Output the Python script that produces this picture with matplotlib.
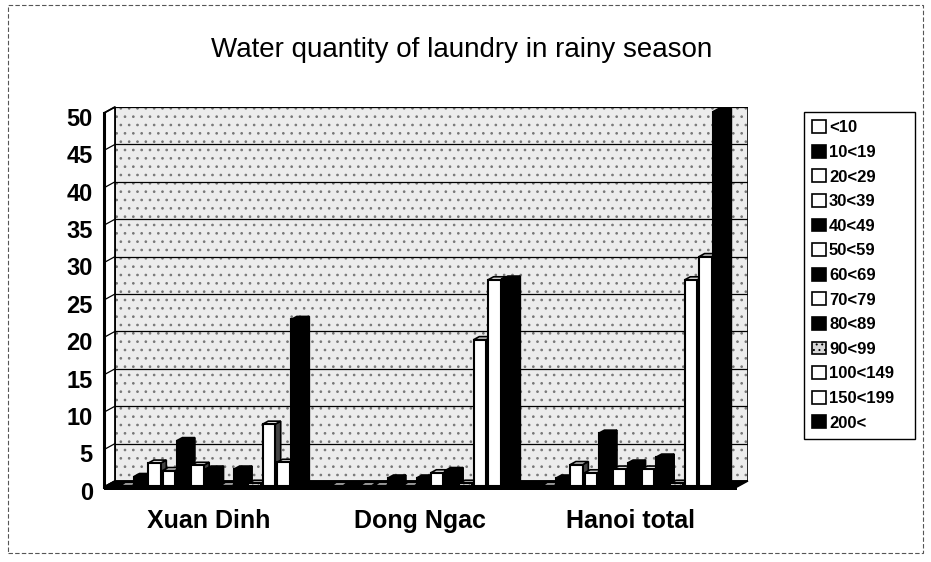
import matplotlib
matplotlib.use('Agg')
import matplotlib.pyplot as plt
import matplotlib.transforms as mtransforms
from matplotlib.patches import Polygon, Rectangle, Patch

plt.rcParams['font.family'] = ['Liberation Sans', 'DejaVu Sans']
plt.rcParams['hatch.linewidth'] = 0.7

# data
groups = ['Xuan Dinh', 'Dong Ngac', 'Hanoi total']
bins = ['<10', '10<19', '20<29', '30<39', '40<49', '50<59', '60<69',
        '70<79', '80<89', '90<99', '100<149', '150<199', '200<']
xuan_dinh = [0, 1.2, 3, 2, 6, 2.7, 2.2, 0, 2.2, 0.3, 8.2, 3.1, 22.2]
dong_ngac = [0, 0, 0, 0, 1, 0, 1, 1.7, 2, 0.3, 19.5, 27.5, 27.6]
hanoi_total = [0, 1, 2.8, 1.7, 7, 2.2, 3, 2.2, 3.8, 0.3, 27.5, 30.6, 50]
yticks = list(range(0, 55, 5))

values = [xuan_dinh, dong_ngac, hanoi_total]

# fill style per series (w = white, k = black, d = dotted)
styles = ['w', 'k', 'w', 'w', 'k', 'w', 'k', 'w', 'k', 'd', 'w', 'w', 'k']
face = {'w': 'white', 'k': 'black', 'd': '#d8d8d8'}
side = {'w': '#444444', 'k': 'black', 'd': '#444444'}
top = {'w': '#e0e0e0', 'k': 'black', 'd': '#bbbbbb'}

W, H = 931, 562
fig = plt.figure(figsize=(W / 100, H / 100), dpi=100)

# back wall in pixels
L, R, T, B = 115, 748, 107, 481
ax = fig.add_axes([L / W, 1 - B / H, (R - L) / W, (B - T) / H])
xmin, xmax = -0.4976, 2.502
ax.set_xlim(xmin, xmax)
ax.set_ylim(0, 50)
kx = (R - L) / (xmax - xmin)
ky = (B - T) / 50
dx, dy = 11 / kx, 6 / ky   # depth of the 3d box in data units

ax.patch.set_visible(False)
ax.set_frame_on(False)

# back wall
ax.add_patch(Rectangle((xmin, 0), xmax - xmin, 50, facecolor='#ececec',
                       edgecolor='#777777', hatch='..', lw=0, zorder=0))
ax.hlines(yticks, xmin, xmax, color='black', lw=0.9, zorder=1)
ax.add_patch(Rectangle((xmin, 0), xmax - xmin, 50, fill=False,
                       edgecolor='black', lw=1.2, zorder=1))

# left wall
ax.add_patch(Polygon([(xmin - dx, -dy), (xmin, 0), (xmin, 50), (xmin - dx, 50 - dy)],
                     facecolor='white', edgecolor='black', lw=1.3,
                     clip_on=False, zorder=1))
for v in yticks:
    ax.plot([xmin - dx, xmin], [v - dy, v], color='black', lw=0.9,
            clip_on=False, zorder=1)
ax.plot([xmin - dx, xmin - dx], [-dy, 50 - dy], color='black', lw=2.2,
        clip_on=False, zorder=1)

# floor
ax.add_patch(Polygon([(xmin - dx, -dy), (xmax - dx, -dy), (xmax, 0), (xmin, 0)],
                     facecolor='black', edgecolor='black', lw=1,
                     clip_on=False, zorder=2))
ax.add_patch(Rectangle((xmin - dx, -dy - 3 / ky), xmax - xmin, 3 / ky,
                       facecolor='black', lw=0, clip_on=False, zorder=2))

# bars
pitch = 14.3 / kx
width = 12.5 / kx
n = len(bins)
for i, b in enumerate(bins):
    st = styles[i]
    hts = [vals[i] for vals in values]
    xc = [g + (i - (n - 1) / 2) * pitch - 0.75 * dx for g in range(len(groups))]
    base = -0.75 * dy
    z = 3 + i * 0.01
    for x, h in zip(xc, hts):
        x0, x1 = x - width / 2, x + width / 2
        ax.add_patch(Polygon([(x1, base), (x1, base + h), (x1 + 0.5 * dx, base + h + 0.5 * dy),
                              (x1 + 0.5 * dx, base + 0.5 * dy)],
                             facecolor=side[st], edgecolor='black', lw=1.2,
                             clip_on=False, zorder=z))
        ax.add_patch(Polygon([(x0, base + h), (x1, base + h), (x1 + 0.5 * dx, base + h + 0.5 * dy),
                              (x0 + 0.5 * dx, base + h + 0.5 * dy)],
                             facecolor=top[st], edgecolor='black', lw=1.2,
                             clip_on=False, zorder=z))
    ax.bar(xc, hts, width=width, bottom=base, color=face[st], edgecolor='black',
           lw=1.5, hatch='...' if st == 'd' else None, clip_on=False, zorder=z + 0.005)

# ticks
ax.set_yticks(yticks)
ax.set_yticklabels([str(v) for v in yticks], fontsize=17, fontweight='bold')
ax.tick_params(axis='y', length=0, pad=16)
for lbl in ax.get_yticklabels():
    lbl.set_transform(lbl.get_transform() + mtransforms.ScaledTranslation(0, -7 / 72, fig.dpi_scale_trans))

ax.set_xticks(range(len(groups)))
ax.set_xticklabels(groups, fontsize=18, fontweight='bold')
ax.tick_params(axis='x', length=0, pad=20)
for lbl in ax.get_xticklabels():
    lbl.set_transform(lbl.get_transform() + mtransforms.ScaledTranslation(-8 / 72, 0, fig.dpi_scale_trans))

fig.text(462 / W, 1 - 57 / H, 'Water quantity of laundry in rainy season',
         ha='center', va='baseline', fontsize=20)

handles = [Patch(facecolor=face[s], edgecolor='black', lw=1.2,
                 hatch='...' if s == 'd' else None) for s in styles]
leg = fig.legend(handles, bins, loc='upper left',
                 bbox_to_anchor=(804 / W, 1 - 438 / H, 111 / W, 326 / H), mode='expand',
                 prop={'size': 12, 'weight': 'bold'}, handlelength=0.8, handleheight=0.8,
                 handletextpad=0.2, labelspacing=0.565, borderpad=0.5, borderaxespad=0,
                 fancybox=False, framealpha=1, edgecolor='black')
leg.get_frame().set_linewidth(1)

# outer border
fig.add_artist(Rectangle((8 / W, (H - 553) / H), (923 - 8) / W, (553 - 5) / H,
                         transform=fig.transFigure, fill=False, edgecolor='#555555',
                         lw=0.8, ls=(0, (4, 2))))

fig.savefig('out.png', dpi=100)
